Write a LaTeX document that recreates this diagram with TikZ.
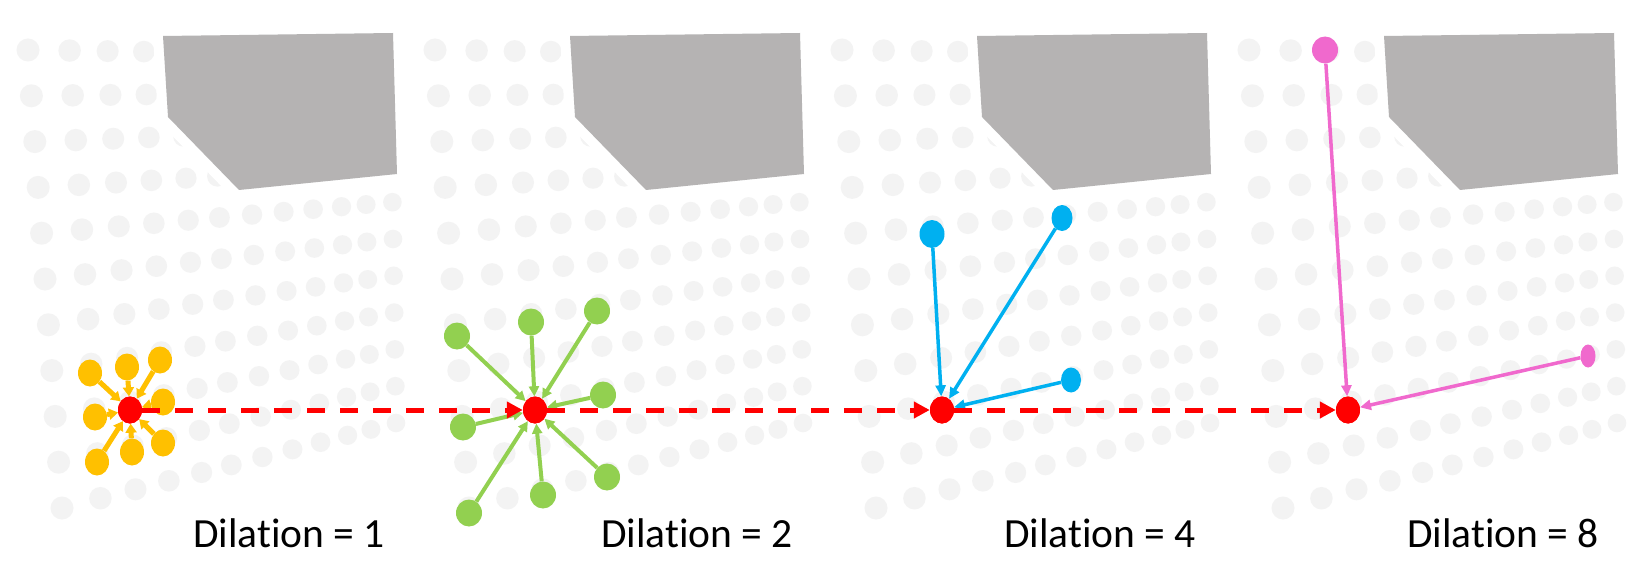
\documentclass[tikz,border=0pt]{standalone}
\usepackage{fontspec}
\setmainfont{Carlito}[Ligatures=NoCommon]
\usetikzlibrary{arrows.meta,shapes.geometric}
\definecolor{polyg}{RGB}{181,179,179}
\definecolor{gdot}{RGB}{243,243,243}
\definecolor{cyel}{RGB}{255,192,0}
\definecolor{cgrn}{RGB}{146,208,80}
\definecolor{cblu}{RGB}{0,176,240}
\definecolor{cpnk}{RGB}{240,105,205}
\definecolor{cred}{RGB}{255,0,0}
\begin{document}
\begin{tikzpicture}[x=1pt,y=-1pt,
  centre/.style={ellipse,fill=cred,inner sep=0pt,minimum width=24pt,minimum height=27pt},
  nb/.style={ellipse,inner sep=0pt,minimum width=24pt,minimum height=27pt,fill=#1},
  redarrow/.style={draw=cred,line width=5pt,dash pattern=on 18pt off 15pt,-{Triangle[length=16pt,width=16pt]}},
  yarr/.style={draw=cyel,line width=5pt,-{Triangle[length=9pt,width=11pt]}},
  garr/.style={draw=cgrn,line width=4pt,-{Triangle[length=10pt,width=10pt]}},
  barr/.style={draw=cblu,line width=3.5pt,-{Triangle[length=11pt,width=10pt]}},
  parr/.style={draw=cpnk,line width=3.5pt,-{Triangle[length=11pt,width=10pt]}},
  lbl/.style={anchor=base,inner sep=0pt,font=\fontsize{41.5}{50}\selectfont}]
\fill[white] (0,0) rectangle (1640,588);
\useasboundingbox (0,0) rectangle (1640,588);
% background dot grids and blocks
\foreach \k in {0,1,2,3} {
  \foreach \j in {0,...,10} {
    \pgfmathsetmacro\v{\j/10}
    \pgfmathsetmacro\lx{28+34*\v}
    \pgfmathsetmacro\ly{50+458*\v}
    \pgfmathsetmacro\rx{390+6*\v}
    \pgfmathsetmacro\ry{55+368*\v}
    \foreach \u in {0,.115,.22,.32,.418,.507,.6,.69,.774,.855,.925,1} {
      \pgfmathsetmacro\px{\lx+(\rx-\lx)*\u+407*\k}
      \pgfmathsetmacro\py{\ly+(\ry-\ly)*\u}
      \pgfmathsetmacro\rr{11.5-2.2*\u}
      \fill[gdot] (\px,\py) circle[radius=\rr];
    }
  }
  \begin{scope}[shift={(407*\k,0)}]
    \draw[white,line width=20pt,line join=round] (163,36) -- (393,33) -- (397,174) -- (239,190) -- (168,117) -- cycle;
    \fill[polyg] (163,36) -- (393,33) -- (397,174) -- (239,190) -- (168,117) -- cycle;
  \end{scope}
}
% centre points
\node[centre] (c1) at (130,410) {};
\node[centre] (c2) at (535,410) {};
\node[centre] (c3) at (942,410) {};
\node[centre] (c4) at (1348,410) {};
% panel 1: dilation 1
\node[nb=cyel] (y1) at (90,373) {};
\node[nb=cyel] (y2) at (127,367) {};
\node[nb=cyel] (y3) at (160,360) {};
\node[nb=cyel] (y4) at (163,402) {};
\node[nb=cyel] (y5) at (95,417) {};
\node[nb=cyel] (y6) at (163,443) {};
\node[nb=cyel] (y7) at (132,452) {};
\node[nb=cyel] (y8) at (97,462) {};
\foreach \n in {y1,y2,y3,y4,y5,y6,y7,y8} \draw[yarr] (\n) -- (c1);
% panel 2: dilation 2
\node[nb=cgrn,minimum width=26pt] (g1) at (457,336) {};
\node[nb=cgrn,minimum width=26pt] (g2) at (531,322) {};
\node[nb=cgrn,minimum width=26pt] (g3) at (597,311) {};
\node[nb=cgrn,minimum width=26pt] (g4) at (603,395) {};
\node[nb=cgrn,minimum width=26pt] (g5) at (463,427) {};
\node[nb=cgrn,minimum width=26pt] (g6) at (607,477) {};
\node[nb=cgrn,minimum width=26pt] (g7) at (543,495) {};
\node[nb=cgrn,minimum width=26pt] (g8) at (469,513) {};
\foreach \n in {g1,g2,g3,g4,g5,g6,g7,g8} \draw[garr] (\n) -- (c2);
% panel 3: dilation 4
\node[nb=cblu,minimum width=25pt,minimum height=28pt] (b1) at (932,234) {};
\node[nb=cblu,minimum width=21pt,minimum height=26pt] (b2) at (1062,218) {};
\node[nb=cblu,minimum width=20pt,minimum height=25pt] (b3) at (1071,380) {};
\foreach \n in {b1,b2,b3} \draw[barr] (\n) -- (c3);
% panel 4: dilation 8
\node[nb=cpnk,minimum width=26pt,minimum height=27pt] (p1) at (1325,50) {};
\node[nb=cpnk,minimum width=15pt,minimum height=23pt] (p2) at (1588,356) {};
\foreach \n in {p1,p2} \draw[parr] (\n) -- (c4);
% red dashed path
\draw[redarrow] (c1) -- (c2);
\draw[redarrow] (c2) -- (c3);
\draw[redarrow] (c3) -- (c4);
\node[centre] at (c1) {};
\node[centre] at (c2) {};
\node[centre] at (c3) {};
\node[centre] at (c4) {};
% labels
\node[lbl] (l1) at (289,547) {Dilation = 1};
\node[lbl] (l2) at (697,547) {Dilation = 2};
\node[lbl] (l3) at (1100,547) {Dilation = 4};
\node[lbl] (l4) at (1503,547) {Dilation = 8};
\end{tikzpicture}
\end{document}
